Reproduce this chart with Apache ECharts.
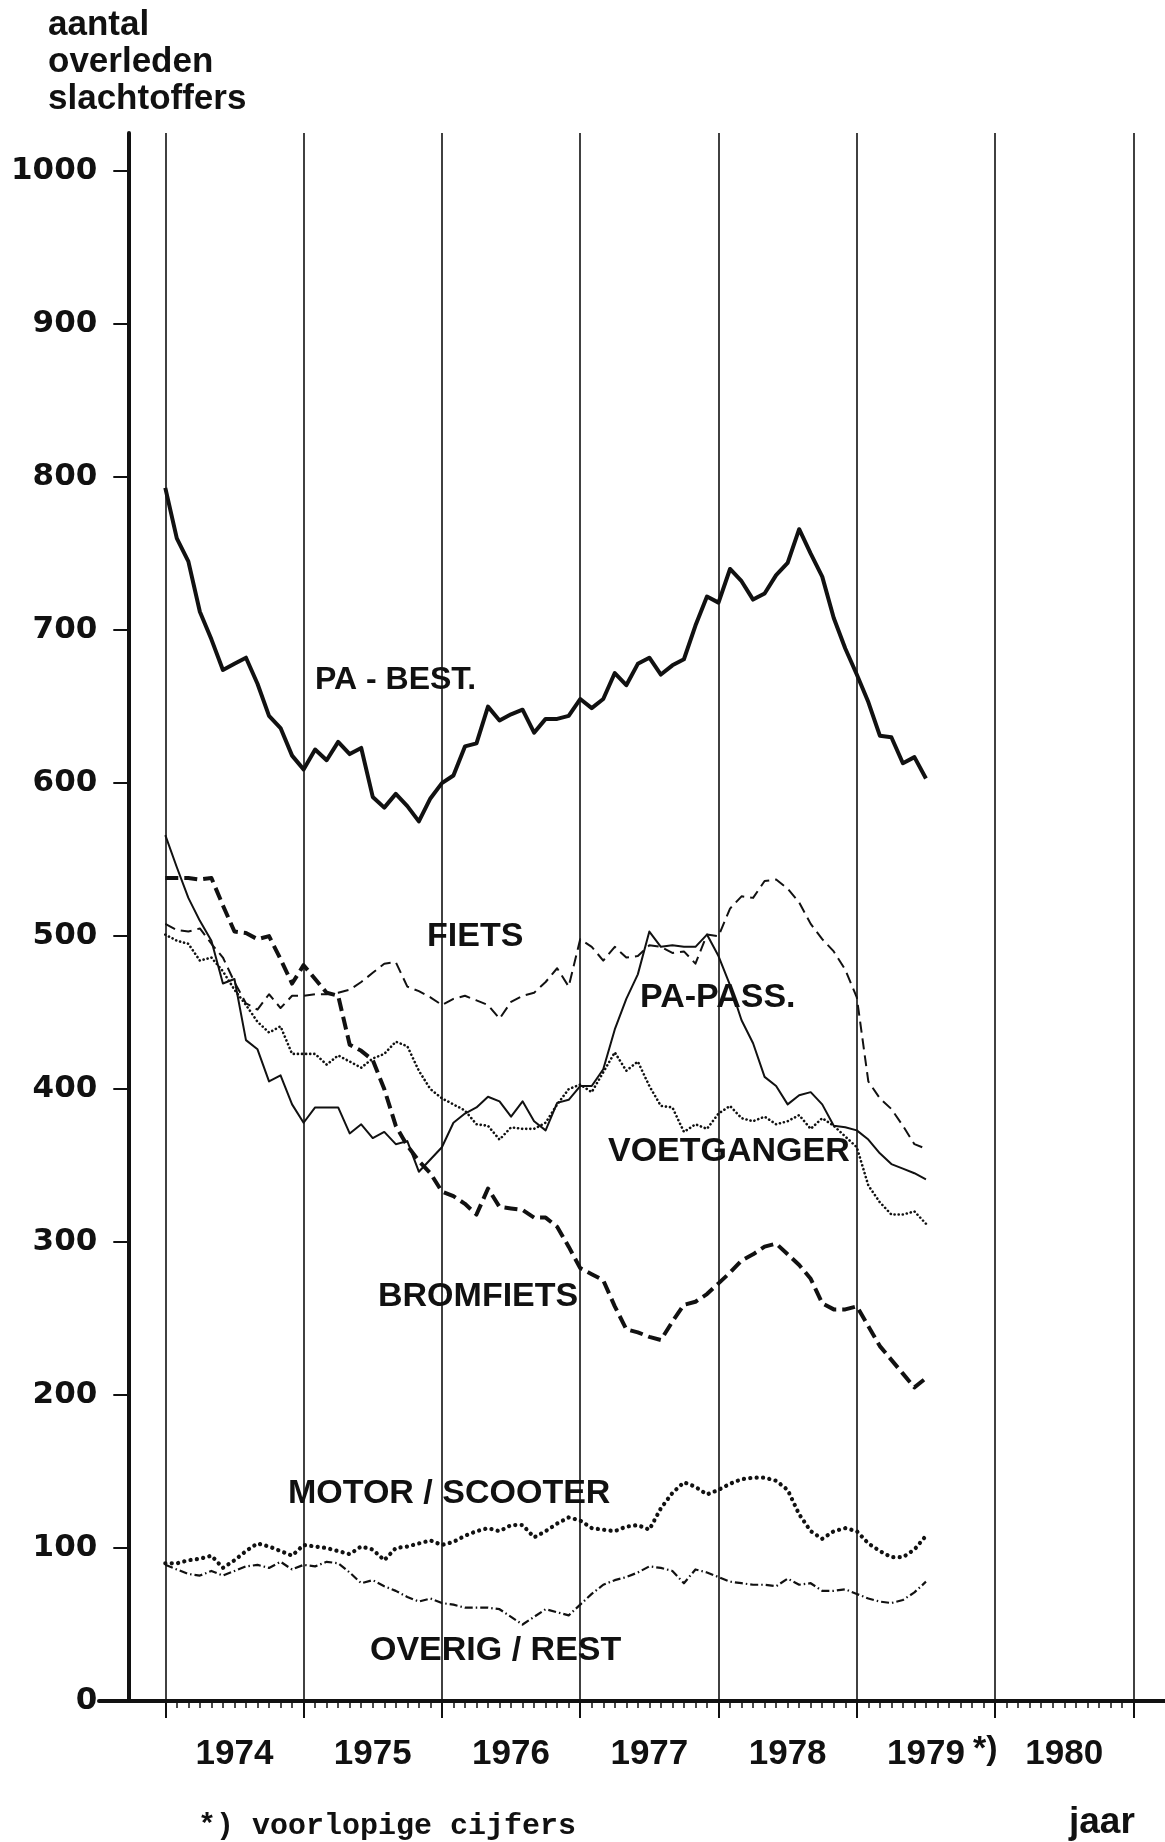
<!DOCTYPE html>
<html>
<head>
<meta charset="utf-8">
<title>Overleden verkeersslachtoffers per vervoerwijze</title>
<script src="https://cdn.jsdelivr.net/npm/echarts@6.0.0/dist/echarts.min.js"></script>
<style>
  html, body { margin: 0; padding: 0; background: #fff; }
  #chart { width: 1165px; height: 1842px; }
</style>
</head>
<body>
<div id="chart"></div>
<script>
// 12-maands voortschrijdende totalen, een punt per maand vanaf begin 1974
const jaren = ['1974', '1975', '1976', '1977', '1978', '1979', '1980'];
const yTicks = [0, 100, 200, 300, 400, 500, 600, 700, 800, 900, 1000];

const paBest = [793, 760, 745, 712, 694, 674, 678, 682, 665, 644,
  636, 618, 609, 622, 615, 627, 619, 623, 591, 584,
  593, 585, 575, 590, 600, 605, 624, 626, 650, 641,
  645, 648, 633, 642, 642, 644, 655, 649, 655, 672,
  664, 678, 682, 671, 677, 681, 703, 722, 718, 740,
  732, 720, 724, 736, 744, 766, 750, 735, 708, 688,
  671, 653, 631, 630, 613, 617, 603];

const paPass = [566, 545, 525, 510, 497, 469, 472, 432, 426, 405,
  409, 390, 378, 388, 388, 388, 371, 377, 368, 372,
  364, 366, 346, 354, 362, 378, 384, 388, 395, 392,
  382, 392, 379, 373, 391, 393, 402, 402, 413, 439,
  459, 475, 503, 493, 494, 493, 493, 501, 487, 468,
  445, 430, 408, 402, 390, 396, 398, 390, 376, 375,
  373, 367, 358, 351, 348, 345, 341];

const fiets = [508, 504, 503, 505, 495, 486, 470, 456, 452, 462,
  453, 461, 461, 462, 462, 463, 465, 470, 476, 482,
  483, 467, 464, 460, 455, 459, 461, 458, 455, 446,
  457, 461, 463, 470, 479, 467, 498, 493, 484, 493,
  486, 487, 494, 493, 489, 490, 482, 501, 500, 518,
  526, 525, 536, 537, 531, 522, 508, 498, 490, 478,
  460, 405, 394, 387, 376, 364, 361];

const bromfiets = [538, 538, 538, 537, 538, 520, 503, 502, 498, 500,
  485, 469, 481, 472, 463, 461, 429, 425, 419, 400,
  376, 363, 353, 345, 333, 330, 325, 318, 335, 323,
  322, 321, 316, 316, 310, 297, 283, 279, 275, 258,
  243, 241, 238, 236, 248, 259, 261, 266, 273, 280,
  288, 292, 297, 299, 292, 285, 276, 260, 256, 256,
  258, 245, 232, 223, 214, 205, 211];

const voetganger = [501, 497, 495, 484, 486, 477, 465, 455, 444, 437,
  441, 423, 423, 423, 416, 422, 418, 414, 420, 423,
  431, 428, 412, 400, 394, 390, 386, 377, 376, 367,
  375, 374, 374, 378, 390, 400, 403, 398, 411, 424,
  412, 418, 402, 389, 388, 372, 377, 374, 384, 389,
  381, 379, 382, 377, 379, 383, 374, 381, 376, 369,
  362, 337, 326, 318, 318, 320, 312];

const motorScooter = [90, 90, 92, 93, 95, 87, 92, 98, 103, 101,
  98, 95, 102, 101, 100, 98, 96, 101, 99, 92,
  100, 101, 103, 105, 102, 104, 108, 111, 113, 111,
  115, 115, 107, 111, 116, 120, 118, 113, 112, 111,
  114, 115, 112, 126, 136, 143, 140, 135, 138, 142,
  145, 146, 146, 144, 138, 122, 111, 106, 111, 113,
  111, 103, 98, 94, 94, 99, 108];

const overigRest = [89, 86, 83, 82, 85, 82, 85, 88, 89, 87,
  91, 86, 89, 88, 91, 90, 84, 77, 79, 75,
  72, 68, 65, 67, 64, 63, 61, 61, 61, 60,
  55, 50, 55, 60, 58, 56, 63, 70, 76, 79,
  81, 84, 88, 87, 85, 77, 86, 84, 81, 78,
  77, 76, 76, 75, 80, 76, 77, 72, 72, 73,
  70, 67, 65, 64, 66, 71, 78];

const INK = '#111';
const SANS = '"Liberation Sans", Arial, sans-serif';
const WIDE = '"DejaVu Sans", Verdana, sans-serif';
const MONO = '"Liberation Mono", "Courier New", monospace';

const chart = echarts.init(document.getElementById('chart'), null, { renderer: 'canvas' });

// month index -> [x, y]
function punten(values) {
  return values.map((v, i) => [i, v]);
}

function lijn(name, values, width, dash, cap) {
  return {
    name: name,
    type: 'line',
    xAxisIndex: 0,
    yAxisIndex: 0,
    data: punten(values),
    symbol: 'none',
    silent: true,
    lineStyle: { color: INK, width: width, type: dash, cap: cap || 'butt', join: 'round' }
  };
}

function tekst(str, x, y, size, family) {
  return {
    type: 'text', x: x, y: y, silent: true,
    style: {
      text: str, fill: INK,
      font: 'bold ' + size + 'px ' + family,
      align: 'left', verticalAlign: 'middle',
      textAlign: 'left', textVerticalAlign: 'middle'
    }
  };
}

const option = {
  animation: false,
  backgroundColor: '#fff',
  textStyle: { fontFamily: SANS, color: INK },
  grid: [
    { left: 165.3, right: 31.6, top: 133, bottom: 141, containLabel: false, outerBoundsMode: 'none' },
    // only carries the long base line
    { left: 99, right: 0, top: 133, bottom: 141, containLabel: false, outerBoundsMode: 'none' }
  ],
  xAxis: [
    {
      type: 'value', gridIndex: 0, min: 0, max: 84, interval: 12, position: 'bottom',
      axisLine: { show: true, onZero: false, lineStyle: { color: INK, width: 4 } },
      axisTick: { show: true, length: 17, lineStyle: { color: INK, width: 2 } },
      minorTick: { show: true, splitNumber: 12, length: 7, lineStyle: { color: INK, width: 1.5 } },
      axisLabel: { show: false },
      splitLine: { show: true, lineStyle: { color: INK, width: 1.6 } }
    },
    {
      type: 'category', gridIndex: 0, data: jaren, position: 'bottom', boundaryGap: true,
      axisLine: { show: false, onZero: false },
      axisTick: { show: false },
      splitLine: { show: false },
      axisLabel: { margin: 36, color: INK, fontFamily: SANS, fontWeight: 'bold', fontSize: 35 }
    },
    {
      type: 'value', gridIndex: 1, min: 0, max: 1, position: 'bottom',
      axisLine: { show: true, onZero: false, lineStyle: { color: INK, width: 4 } },
      axisTick: { show: false },
      axisLabel: { show: false },
      splitLine: { show: false }
    }
  ],
  yAxis: [
    {
      type: 'value', gridIndex: 0, min: 0, max: 1025, offset: 37, position: 'left',
      axisLine: { show: true, onZero: false, lineStyle: { color: INK, width: 4 } },
      axisTick: { show: true, length: 15, customValues: yTicks, lineStyle: { color: INK, width: 2 } },
      axisLabel: {
        customValues: yTicks, margin: 31, color: INK,
        fontFamily: WIDE, fontWeight: 'bold', fontSize: 31,
        formatter: function (v) { return String(v); }
      },
      splitLine: { show: false }
    },
    { type: 'value', gridIndex: 1, show: false, min: 0, max: 1 }
  ],
  series: [
    lijn('PA-BEST.', paBest, 4, 'solid'),
    lijn('PA-PASS.', paPass, 2, 'solid'),
    lijn('FIETS', fiets, 2, [11, 6]),
    lijn('BROMFIETS', bromfiets, 4, [13, 6]),
    lijn('VOETGANGER', voetganger, 2.6, [0.1, 4], 'round'),
    lijn('MOTOR/SCOOTER', motorScooter, 4.2, [0.1, 6.3], 'round'),
    lijn('OVERIG/REST', overigRest, 2.2, [8, 3, 1.5, 3])
  ],
  graphic: [
    tekst('aantal', 48, 25.2, 35, SANS),
    tekst('overleden', 48, 61.9, 35, SANS),
    tekst('slachtoffers', 48, 99.6, 35, SANS),
    tekst('PA - BEST.', 315, 680, 32, SANS),
    tekst('FIETS', 427, 937, 34, SANS),
    tekst('PA-PASS.', 640, 998, 34, SANS),
    tekst('VOETGANGER', 608, 1152, 34, SANS),
    tekst('BROMFIETS', 378, 1297, 34, SANS),
    tekst('MOTOR / SCOOTER', 288, 1494, 34, SANS),
    tekst('OVERIG / REST', 370, 1651, 34, SANS),
    tekst('*)', 973, 1750, 34, SANS),
    tekst('*) voorlopige cijfers', 198, 1826, 30, MONO),
    tekst('jaar', 1069, 1823, 37, SANS)
  ]
};

chart.setOption(option);
</script>
</body>
</html>
